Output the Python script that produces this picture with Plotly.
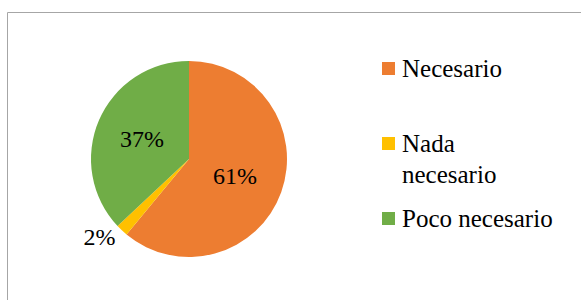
import plotly.graph_objects as go

categories = ["Necesario", "Nada necesario", "Poco necesario"]
values = [61, 2, 37]
colors = ["#ED7D31", "#FFC000", "#70AD47"]
legend_lines = [["Necesario"], ["Nada", "necesario"], ["Poco necesario"]]

W, H = 581, 300
FONT = "Liberation Serif"

def px(x):
    return x / W

def py(y):
    return 1 - y / H

fig = go.Figure(go.Pie(
    labels=categories,
    values=values,
    sort=False,
    direction="clockwise",
    rotation=0,
    marker=dict(colors=colors, line=dict(width=0)),
    texttemplate="%{percent:.0%}",
    textposition=["inside", "outside", "inside"],
    insidetextorientation="horizontal",
    textfont=dict(family=FONT, size=24, color="#000000"),
    domain=dict(x=[px(91), px(287)], y=[43 / H, 239 / H]),
    showlegend=False,
    hoverinfo="label+percent",
))

shapes = [dict(type="rect", xref="paper", yref="paper",
               x0=px(7.5), x1=px(W + 10), y0=py(12.5), y1=py(H + 10),
               line=dict(color="#A6A6A6", width=1), fillcolor="rgba(0,0,0,0)")]
annotations = []
square_tops = [62, 137, 212]
line_gap = 31
for i, (lines, col) in enumerate(zip(legend_lines, colors)):
    top = square_tops[i]
    shapes.append(dict(type="rect", xref="paper", yref="paper",
                       x0=px(382), x1=px(395), y0=py(top), y1=py(top + 13),
                       line=dict(width=0), fillcolor=col))
    for j, t in enumerate(lines):
        annotations.append(dict(
            xref="paper", yref="paper", x=px(400), y=py(top + 6 + j * line_gap),
            xanchor="left", yanchor="middle", text=t, showarrow=False,
            font=dict(family=FONT, size=25, color="#000000")))

fig.update_layout(
    width=W, height=H,
    margin=dict(l=0, r=0, t=0, b=0),
    paper_bgcolor="white", plot_bgcolor="white",
    shapes=shapes, annotations=annotations,
    font=dict(family=FONT),
)

fig.write_html("out.html", config={"displayModeBar": False},
               post_script="document.body.style.margin='0';document.body.style.overflow='hidden';")
